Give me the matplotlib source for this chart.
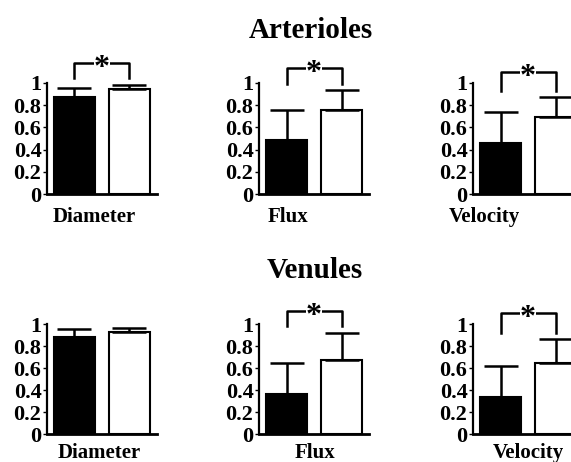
import matplotlib
matplotlib.use("Agg")
import matplotlib.pyplot as plt

# data (fraction of baseline), black = before, white = after
groups = ["Arterioles", "Venules"]
measures = ["Diameter", "Flux", "Velocity"]

black_means = [[0.875, 0.486, 0.46], [0.88, 0.36, 0.34]]
black_errs = [[0.08, 0.275, 0.28], [0.075, 0.29, 0.28]]
white_means = [[0.946, 0.76, 0.69], [0.93, 0.67, 0.645]]
white_errs = [[0.035, 0.175, 0.18], [0.035, 0.25, 0.215]]
significant = [[True, True, True], [False, True, True]]

ytick_vals = [0, 0.2, 0.4, 0.6, 0.8, 1]
ytick_labels = ["0", "0.2", "0.4", "0.6", "0.8", "1"]

# layout in pixels of the 571x462 picture
W, H = 571, 462
col_left = [47, 259, 473]
row_zero = [194, 434]
row_one = [83, 324]
label_x = [[94, 288, 484], [99, 315, 528]]
label_base = [222, 458]
title_x = [311, 315]
title_base = [38, 278]

plt.rcParams["font.family"] = ["Liberation Serif", "DejaVu Serif"]
plt.rcParams["font.weight"] = "bold"

fig = plt.figure(figsize=(W / 100, H / 100), dpi=100)

for r, group in enumerate(groups):
    fig.text(title_x[r] / W, 1 - title_base[r] / H, group, ha="center",
             va="baseline", fontsize=21, fontweight="bold")
    for c, measure in enumerate(measures):
        h = row_zero[r] - row_one[r]
        ax = fig.add_axes([col_left[c] / W, 1 - row_zero[r] / H, 110 / W, h / H])
        ax.set_xlim(-0.5, 1.5)
        ax.set_ylim(0, 1)
        ax.patch.set_alpha(0)

        bm, be = black_means[r][c], black_errs[r][c]
        wm, we = white_means[r][c], white_errs[r][c]
        ax.bar([0], [bm], width=0.76, color="black", edgecolor="black", linewidth=1.5)
        ax.bar([1], [wm], width=0.76, color="white", edgecolor="black", linewidth=1.5,
               clip_on=False)
        ax.errorbar([0, 1], [bm, wm], yerr=[[0, 0], [be, we]], fmt="none",
                    ecolor="black", elinewidth=1.8, capsize=12, capthick=1.8,
                    clip_on=False)

        if significant[r][c]:
            top = max(bm + be, wm + we)
            leg = top + 0.06
            bar_y = max(top + 0.2, 1.1)
            ax.plot([0, 0, 1, 1], [leg, bar_y, bar_y, leg], color="black",
                    lw=1.8, clip_on=False)
            ax.text(0.5, bar_y - 0.05, "*", ha="center", va="center", fontsize=23,
                    fontweight="bold", clip_on=False,
                    bbox=dict(facecolor="white", edgecolor="none", pad=0.3))

        for s in ["top", "right"]:
            ax.spines[s].set_visible(False)
        ax.spines["left"].set_linewidth(1.6)
        ax.spines["bottom"].set_linewidth(2)
        ax.set_xticks([])
        ax.set_yticks(ytick_vals)
        ax.set_yticklabels(ytick_labels, fontsize=16, fontweight="bold")
        ax.tick_params(axis="y", direction="out", length=3, width=1, pad=1)

        fig.text(label_x[r][c] / W, 1 - label_base[r] / H, measure, ha="center",
                 va="baseline", fontsize=15, fontweight="bold")

fig.savefig("out.png", dpi=100)
